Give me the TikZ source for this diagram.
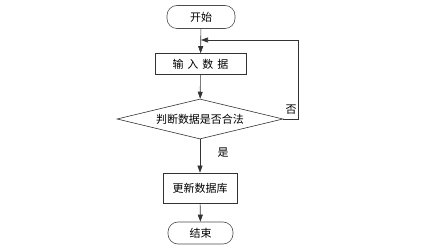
\documentclass[tikz,border=0pt]{standalone}
\usepackage{fontspec}
\newfontfamily\cjk{Noto Sans CJK SC}
\usetikzlibrary{arrows.meta,shapes.geometric}
\begin{document}
\begin{tikzpicture}[x=1pt,y=-1pt,
  font=\cjk\fontsize{11}{13}\selectfont,
  line/.style={draw=black!80, line width=0.6pt},
  arr/.style={line, -{Triangle[length=7pt,width=5pt]}},
  term/.style={draw=black!70, line width=0.6pt, rounded corners=10pt, minimum width=68pt, minimum height=23pt, inner sep=0pt},
  proc/.style={draw=black!80, line width=0.6pt, minimum width=91pt, minimum height=21pt, inner sep=0pt},
  dec/.style={draw=black!80, line width=0.6pt, diamond, aspect=4.15, minimum width=166pt, minimum height=40pt, inner sep=0pt}]
\useasboundingbox (0,0) rectangle (424,251);
\node[term] (start) at (201,17) {开始};
\node[proc] (input) at (200.5,64) {输\hspace{4pt}入\hspace{4pt}数\hspace{4pt}据};
\node[dec] (check) at (200,119) {判断数据是否合法};
\node[proc, minimum width=74pt, minimum height=30pt] (update) at (200,188) {更新数据库};
\node[term, minimum width=65pt, minimum height=22pt] (end) at (200.5,233) {结束};
\coordinate (merge) at (201,40);
\coordinate (rc) at (298,119);
\coordinate (tc) at (298,40);
\draw[arr] (start) -- (input);
\draw[arr] (input) -- (check);
\draw[arr] (check) -- (update);
\node (yes) at (223,153) {是};
\draw[arr] (update) -- (end);
\draw[line] (check.east) -- (rc) -- (tc);
\draw[arr] (tc) -- (merge);
\node (no) at (291,110) {否};
\end{tikzpicture}
\end{document}
